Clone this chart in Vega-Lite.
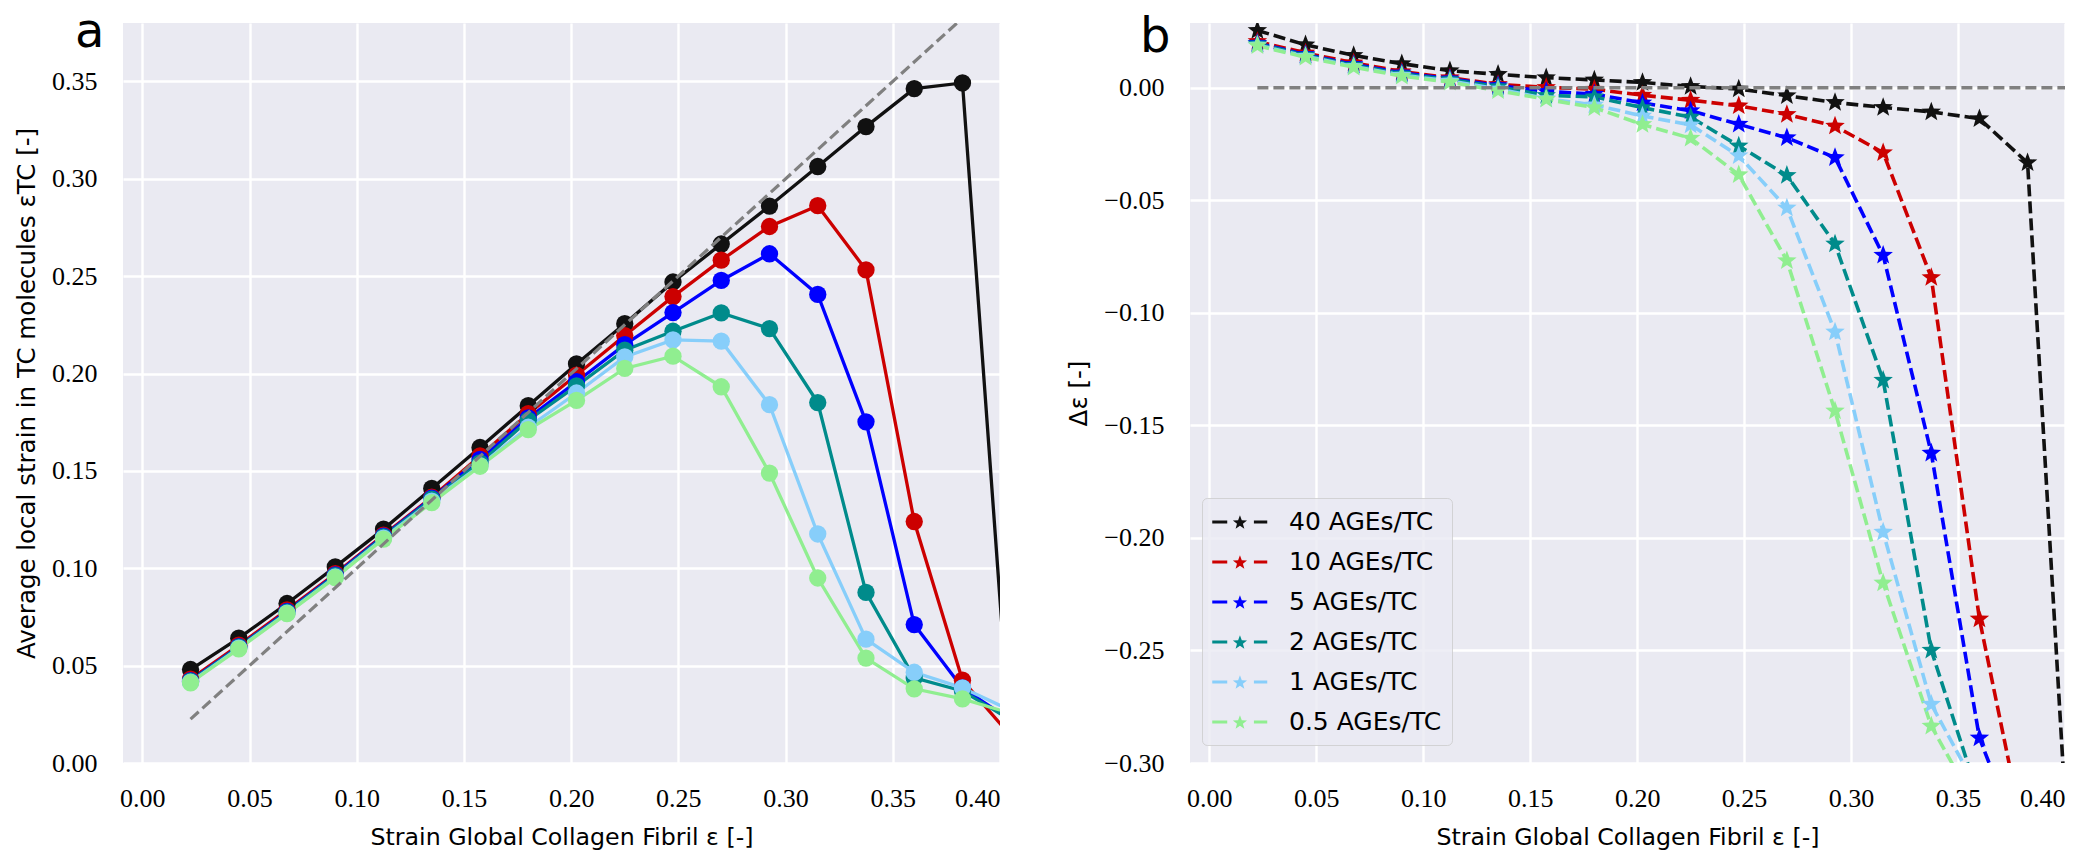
{
  "$schema": "https://vega.github.io/schema/vega-lite/v6.json",
  "background": "white",
  "padding": {"left": 14, "top": 9, "right": 10, "bottom": 5},
  "autosize": {"type": "pad"},
  "spacing": 190,
  "bounds": "flush",
  "resolve": {"scale": {"color": "independent"}, "legend": {"color": "independent"}},
  "config": {
    "view": {"fill": "#eaeaf2", "stroke": null},
    "axis": {
      "grid": true, "gridColor": "#ffffff", "gridWidth": 2.4, "domain": false, "ticks": false,
      "labelFont": "Liberation Serif", "labelFontSize": 26, "labelColor": "#000000",
      "titleFont": "DejaVu Sans", "titleFontSize": 23.7, "titleFontWeight": "normal", "titleColor": "#000000"
    },
    "axisX": {"labelPadding": 22, "titlePadding": 14},
    "axisY": {"labelPadding": 26, "titlePadding": 12, "titleFontSize": 24.5},
    "title": {"font": "DejaVu Sans", "fontSize": 48, "fontWeight": "normal", "color": "#000000", "anchor": "start", "frame": "group", "orient": "top", "offset": 0, "baseline": "alphabetic"}
  },
  "datasets": {
    "main": [
      {"x":0.0225,"s":"40 AGEs/TC","e":0.0480,"d":0.0255},
      {"x":0.045,"s":"40 AGEs/TC","e":0.0641,"d":0.0191},
      {"x":0.0675,"s":"40 AGEs/TC","e":0.0819,"d":0.0144},
      {"x":0.09,"s":"40 AGEs/TC","e":0.1007,"d":0.0107},
      {"x":0.1125,"s":"40 AGEs/TC","e":0.1201,"d":0.0076},
      {"x":0.135,"s":"40 AGEs/TC","e":0.1410,"d":0.0060},
      {"x":0.1575,"s":"40 AGEs/TC","e":0.1620,"d":0.0045},
      {"x":0.18,"s":"40 AGEs/TC","e":0.1835,"d":0.0035},
      {"x":0.2025,"s":"40 AGEs/TC","e":0.2049,"d":0.0024},
      {"x":0.225,"s":"40 AGEs/TC","e":0.2256,"d":0.0006},
      {"x":0.2475,"s":"40 AGEs/TC","e":0.2470,"d":-0.0005},
      {"x":0.27,"s":"40 AGEs/TC","e":0.2665,"d":-0.0035},
      {"x":0.2925,"s":"40 AGEs/TC","e":0.2860,"d":-0.0065},
      {"x":0.315,"s":"40 AGEs/TC","e":0.3063,"d":-0.0087},
      {"x":0.3375,"s":"40 AGEs/TC","e":0.3268,"d":-0.0107},
      {"x":0.36,"s":"40 AGEs/TC","e":0.3463,"d":-0.0137},
      {"x":0.3825,"s":"40 AGEs/TC","e":0.3492,"d":-0.0333},
      {"x":0.405,"s":"40 AGEs/TC","e":0.008,"d":-0.397},

      {"x":0.0225,"s":"10 AGEs/TC","e":0.0431,"d":0.0206},
      {"x":0.045,"s":"10 AGEs/TC","e":0.0605,"d":0.0155},
      {"x":0.0675,"s":"10 AGEs/TC","e":0.0786,"d":0.0111},
      {"x":0.09,"s":"10 AGEs/TC","e":0.0972,"d":0.0072},
      {"x":0.1125,"s":"10 AGEs/TC","e":0.1170,"d":0.0045},
      {"x":0.135,"s":"10 AGEs/TC","e":0.1365,"d":0.0015},
      {"x":0.1575,"s":"10 AGEs/TC","e":0.1577,"d":0.0002},
      {"x":0.18,"s":"10 AGEs/TC","e":0.1794,"d":-0.0006},
      {"x":0.2025,"s":"10 AGEs/TC","e":0.1992,"d":-0.0033},
      {"x":0.225,"s":"10 AGEs/TC","e":0.2195,"d":-0.0055},
      {"x":0.2475,"s":"10 AGEs/TC","e":0.2395,"d":-0.0080},
      {"x":0.27,"s":"10 AGEs/TC","e":0.2582,"d":-0.0118},
      {"x":0.2925,"s":"10 AGEs/TC","e":0.2755,"d":-0.0170},
      {"x":0.315,"s":"10 AGEs/TC","e":0.2862,"d":-0.0288},
      {"x":0.3375,"s":"10 AGEs/TC","e":0.2532,"d":-0.0843},
      {"x":0.36,"s":"10 AGEs/TC","e":0.1240,"d":-0.2360},
      {"x":0.3825,"s":"10 AGEs/TC","e":0.0425,"d":-0.3400},
      {"x":0.405,"s":"10 AGEs/TC","e":0.014,"d":-0.391},

      {"x":0.0225,"s":"5 AGEs/TC","e":0.0423,"d":0.0198},
      {"x":0.045,"s":"5 AGEs/TC","e":0.0598,"d":0.0148},
      {"x":0.0675,"s":"5 AGEs/TC","e":0.0779,"d":0.0104},
      {"x":0.09,"s":"5 AGEs/TC","e":0.0966,"d":0.0066},
      {"x":0.1125,"s":"5 AGEs/TC","e":0.1165,"d":0.0040},
      {"x":0.135,"s":"5 AGEs/TC","e":0.1360,"d":0.0010},
      {"x":0.1575,"s":"5 AGEs/TC","e":0.1559,"d":-0.0016},
      {"x":0.18,"s":"5 AGEs/TC","e":0.1772,"d":-0.0028},
      {"x":0.2025,"s":"5 AGEs/TC","e":0.1958,"d":-0.0067},
      {"x":0.225,"s":"5 AGEs/TC","e":0.2148,"d":-0.0102},
      {"x":0.2475,"s":"5 AGEs/TC","e":0.2313,"d":-0.0162},
      {"x":0.27,"s":"5 AGEs/TC","e":0.2478,"d":-0.0222},
      {"x":0.2925,"s":"5 AGEs/TC","e":0.2615,"d":-0.0310},
      {"x":0.315,"s":"5 AGEs/TC","e":0.2406,"d":-0.0744},
      {"x":0.3375,"s":"5 AGEs/TC","e":0.1752,"d":-0.1623},
      {"x":0.36,"s":"5 AGEs/TC","e":0.0711,"d":-0.2889},
      {"x":0.3825,"s":"5 AGEs/TC","e":0.0385,"d":-0.3440},
      {"x":0.405,"s":"5 AGEs/TC","e":0.022,"d":-0.383},

      {"x":0.0225,"s":"2 AGEs/TC","e":0.0420,"d":0.0195},
      {"x":0.045,"s":"2 AGEs/TC","e":0.0595,"d":0.0145},
      {"x":0.0675,"s":"2 AGEs/TC","e":0.0775,"d":0.0100},
      {"x":0.09,"s":"2 AGEs/TC","e":0.0962,"d":0.0062},
      {"x":0.1125,"s":"2 AGEs/TC","e":0.1161,"d":0.0036},
      {"x":0.135,"s":"2 AGEs/TC","e":0.1355,"d":0.0005},
      {"x":0.1575,"s":"2 AGEs/TC","e":0.1541,"d":-0.0034},
      {"x":0.18,"s":"2 AGEs/TC","e":0.1760,"d":-0.0040},
      {"x":0.2025,"s":"2 AGEs/TC","e":0.1937,"d":-0.0088},
      {"x":0.225,"s":"2 AGEs/TC","e":0.2120,"d":-0.0130},
      {"x":0.2475,"s":"2 AGEs/TC","e":0.2217,"d":-0.0258},
      {"x":0.27,"s":"2 AGEs/TC","e":0.2311,"d":-0.0389},
      {"x":0.2925,"s":"2 AGEs/TC","e":0.2231,"d":-0.0694},
      {"x":0.315,"s":"2 AGEs/TC","e":0.1851,"d":-0.1299},
      {"x":0.3375,"s":"2 AGEs/TC","e":0.0876,"d":-0.2499},
      {"x":0.36,"s":"2 AGEs/TC","e":0.0437,"d":-0.3163},
      {"x":0.3825,"s":"2 AGEs/TC","e":0.0370,"d":-0.3455},
      {"x":0.405,"s":"2 AGEs/TC","e":0.022,"d":-0.383},

      {"x":0.0225,"s":"1 AGEs/TC","e":0.0415,"d":0.0190},
      {"x":0.045,"s":"1 AGEs/TC","e":0.0590,"d":0.0140},
      {"x":0.0675,"s":"1 AGEs/TC","e":0.0770,"d":0.0095},
      {"x":0.09,"s":"1 AGEs/TC","e":0.0956,"d":0.0056},
      {"x":0.1125,"s":"1 AGEs/TC","e":0.1155,"d":0.0030},
      {"x":0.135,"s":"1 AGEs/TC","e":0.1345,"d":-0.0005},
      {"x":0.1575,"s":"1 AGEs/TC","e":0.1527,"d":-0.0048},
      {"x":0.18,"s":"1 AGEs/TC","e":0.1724,"d":-0.0076},
      {"x":0.2025,"s":"1 AGEs/TC","e":0.1900,"d":-0.0125},
      {"x":0.225,"s":"1 AGEs/TC","e":0.2085,"d":-0.0165},
      {"x":0.2475,"s":"1 AGEs/TC","e":0.2173,"d":-0.0302},
      {"x":0.27,"s":"1 AGEs/TC","e":0.2166,"d":-0.0534},
      {"x":0.2925,"s":"1 AGEs/TC","e":0.1840,"d":-0.1085},
      {"x":0.315,"s":"1 AGEs/TC","e":0.1176,"d":-0.1974},
      {"x":0.3375,"s":"1 AGEs/TC","e":0.0636,"d":-0.2739},
      {"x":0.36,"s":"1 AGEs/TC","e":0.0466,"d":-0.3134},
      {"x":0.3825,"s":"1 AGEs/TC","e":0.0386,"d":-0.3439},
      {"x":0.405,"s":"1 AGEs/TC","e":0.027,"d":-0.378},

      {"x":0.0225,"s":"0.5 AGEs/TC","e":0.0412,"d":0.0187},
      {"x":0.045,"s":"0.5 AGEs/TC","e":0.0586,"d":0.0136},
      {"x":0.0675,"s":"0.5 AGEs/TC","e":0.0767,"d":0.0092},
      {"x":0.09,"s":"0.5 AGEs/TC","e":0.0952,"d":0.0052},
      {"x":0.1125,"s":"0.5 AGEs/TC","e":0.1150,"d":0.0025},
      {"x":0.135,"s":"0.5 AGEs/TC","e":0.1337,"d":-0.0013},
      {"x":0.1575,"s":"0.5 AGEs/TC","e":0.1524,"d":-0.0051},
      {"x":0.18,"s":"0.5 AGEs/TC","e":0.1712,"d":-0.0088},
      {"x":0.2025,"s":"0.5 AGEs/TC","e":0.1862,"d":-0.0163},
      {"x":0.225,"s":"0.5 AGEs/TC","e":0.2026,"d":-0.0224},
      {"x":0.2475,"s":"0.5 AGEs/TC","e":0.2089,"d":-0.0386},
      {"x":0.27,"s":"0.5 AGEs/TC","e":0.1932,"d":-0.0768},
      {"x":0.2925,"s":"0.5 AGEs/TC","e":0.1489,"d":-0.1436},
      {"x":0.315,"s":"0.5 AGEs/TC","e":0.0950,"d":-0.2200},
      {"x":0.3375,"s":"0.5 AGEs/TC","e":0.0539,"d":-0.2836},
      {"x":0.36,"s":"0.5 AGEs/TC","e":0.0381,"d":-0.3219},
      {"x":0.3825,"s":"0.5 AGEs/TC","e":0.0329,"d":-0.3496},
      {"x":0.405,"s":"0.5 AGEs/TC","e":0.0255,"d":-0.3795}
    ],
    "refA": [{"x":0.0225,"y":0.0225},{"x":0.405,"y":0.405}],
    "refB": [{"x":0.0225,"y":0},{"x":0.405,"y":0}]
  },
  "hconcat": [
    {
      "width": 877, "height": 740,
      "title": {"text": "a", "dx": -48, "dy": 38},
      "layer": [
        {
          "data": {"name": "main"},
          "mark": {"type": "line", "strokeWidth": 3.3, "clip": true},
          "encoding": {
            "x": {"field": "x", "type": "quantitative", "scale": {"domain": [-0.009, 0.40], "nice": false, "zero": false},
                  "axis": {"values": [0, 0.05, 0.1, 0.15, 0.2, 0.25, 0.3, 0.35, 0.4], "format": ".2f", "title": "Strain Global Collagen Fibril ε [-]"}},
            "y": {"field": "e", "type": "quantitative", "scale": {"domain": [0, 0.38], "nice": false, "zero": false},
                  "axis": {"values": [0, 0.05, 0.1, 0.15, 0.2, 0.25, 0.3, 0.35], "format": ".2f", "title": "Average local strain in TC molecules εTC [-]"}},
            "color": {"field": "s", "type": "nominal",
                      "scale": {"domain": ["40 AGEs/TC", "10 AGEs/TC", "5 AGEs/TC", "2 AGEs/TC", "1 AGEs/TC", "0.5 AGEs/TC"],
                                "range": ["#111111", "#cc0000", "#0000ff", "#008b8b", "#87cefa", "#90ee90"]},
                      "legend": null}
          }
        },
        {
          "data": {"name": "main"},
          "transform": [{"filter": "datum.x < 0.4"}],
          "mark": {"type": "point", "shape": "circle", "filled": true, "size": 300, "opacity": 1, "clip": true},
          "encoding": {
            "x": {"field": "x", "type": "quantitative"},
            "y": {"field": "e", "type": "quantitative"},
            "color": {"field": "s", "type": "nominal",
                      "scale": {"domain": ["40 AGEs/TC", "10 AGEs/TC", "5 AGEs/TC", "2 AGEs/TC", "1 AGEs/TC", "0.5 AGEs/TC"],
                                "range": ["#111111", "#cc0000", "#0000ff", "#008b8b", "#87cefa", "#90ee90"]},
                      "legend": null}
          }
        },
        {
          "data": {"name": "refA"},
          "mark": {"type": "line", "color": "#808080", "strokeWidth": 3.2, "strokeDash": [11, 5], "clip": true},
          "encoding": {
            "x": {"field": "x", "type": "quantitative"},
            "y": {"field": "y", "type": "quantitative"}
          }
        }
      ]
    },
    {
      "width": 875, "height": 740,
      "title": {"text": "b", "dx": -50, "dy": 43},
      "layer": [
        {
          "data": {"name": "main"},
          "mark": {"type": "line", "strokeWidth": 3.6, "strokeDash": [12, 5], "clip": true},
          "encoding": {
            "x": {"field": "x", "type": "quantitative", "scale": {"domain": [-0.009, 0.40], "nice": false, "zero": false},
                  "axis": {"values": [0, 0.05, 0.1, 0.15, 0.2, 0.25, 0.3, 0.35, 0.4], "format": ".2f", "title": "Strain Global Collagen Fibril ε [-]"}},
            "y": {"field": "d", "type": "quantitative", "scale": {"domain": [-0.30, 0.0288], "nice": false, "zero": false},
                  "axis": {"values": [-0.3, -0.25, -0.2, -0.15, -0.1, -0.05, 0], "format": ".2f", "title": "Δε [-]"}},
            "color": {"field": "s", "type": "nominal",
                      "scale": {"domain": ["40 AGEs/TC", "10 AGEs/TC", "5 AGEs/TC", "2 AGEs/TC", "1 AGEs/TC", "0.5 AGEs/TC"],
                                "range": ["#111111", "#cc0000", "#0000ff", "#008b8b", "#87cefa", "#90ee90"]},
                      "legend": {
                        "orient": "none", "legendX": 12, "legendY": 475, "title": null,
                        "symbolType": "M-1,-0.117H0.09V0.117H-1Z M2.03,-0.117H3V0.117H2.03Z M1.015,-0.49L1.148,-0.1335L1.5286,-0.1169L1.2307,0.1201L1.3324,0.4869L1.015,0.2768L0.6976,0.4869L0.7993,0.1201L0.5014,-0.1169L0.8817,-0.1335Z",
                        "symbolSize": 756, "symbolStrokeWidth": 0, "symbolOpacity": 1, "symbolDash": [],
                        "labelFont": "DejaVu Sans", "labelFontSize": 25, "labelColor": "#000000", "labelOffset": 49, "labelLimit": 400,
                        "rowPadding": 13, "padding": 10,
                        "fillColor": "rgba(234,234,242,0.8)", "strokeColor": "rgba(204,204,204,0.8)", "cornerRadius": 5
                      }}
          }
        },
        {
          "data": {"name": "main"},
          "transform": [{"filter": "datum.x < 0.4"}],
          "mark": {"type": "point", "shape": "M0,-1L0.2469,-0.3398L0.9511,-0.309L0.3995,0.1298L0.5878,0.809L0,0.42L-0.5878,0.809L-0.3995,0.1298L-0.9511,-0.309L-0.2469,-0.3398Z", "filled": true, "size": 420, "opacity": 1, "clip": true},
          "encoding": {
            "x": {"field": "x", "type": "quantitative"},
            "y": {"field": "d", "type": "quantitative"},
            "color": {"field": "s", "type": "nominal",
                      "scale": {"domain": ["40 AGEs/TC", "10 AGEs/TC", "5 AGEs/TC", "2 AGEs/TC", "1 AGEs/TC", "0.5 AGEs/TC"],
                                "range": ["#111111", "#cc0000", "#0000ff", "#008b8b", "#87cefa", "#90ee90"]},
                      "legend": {
                        "orient": "none", "legendX": 12, "legendY": 475, "title": null,
                        "symbolType": "M-1,-0.117H0.09V0.117H-1Z M2.03,-0.117H3V0.117H2.03Z M1.015,-0.49L1.148,-0.1335L1.5286,-0.1169L1.2307,0.1201L1.3324,0.4869L1.015,0.2768L0.6976,0.4869L0.7993,0.1201L0.5014,-0.1169L0.8817,-0.1335Z",
                        "symbolSize": 756, "symbolStrokeWidth": 0, "symbolOpacity": 1, "symbolDash": [],
                        "labelFont": "DejaVu Sans", "labelFontSize": 25, "labelColor": "#000000", "labelOffset": 49, "labelLimit": 400,
                        "rowPadding": 13, "padding": 10,
                        "fillColor": "rgba(234,234,242,0.8)", "strokeColor": "rgba(204,204,204,0.8)", "cornerRadius": 5
                      }}
          }
        },
        {
          "data": {"name": "refB"},
          "mark": {"type": "line", "color": "#808080", "strokeWidth": 3.4, "strokeDash": [11, 5], "clip": true},
          "encoding": {
            "x": {"field": "x", "type": "quantitative"},
            "y": {"field": "y", "type": "quantitative"}
          }
        }
      ]
    }
  ]
}
